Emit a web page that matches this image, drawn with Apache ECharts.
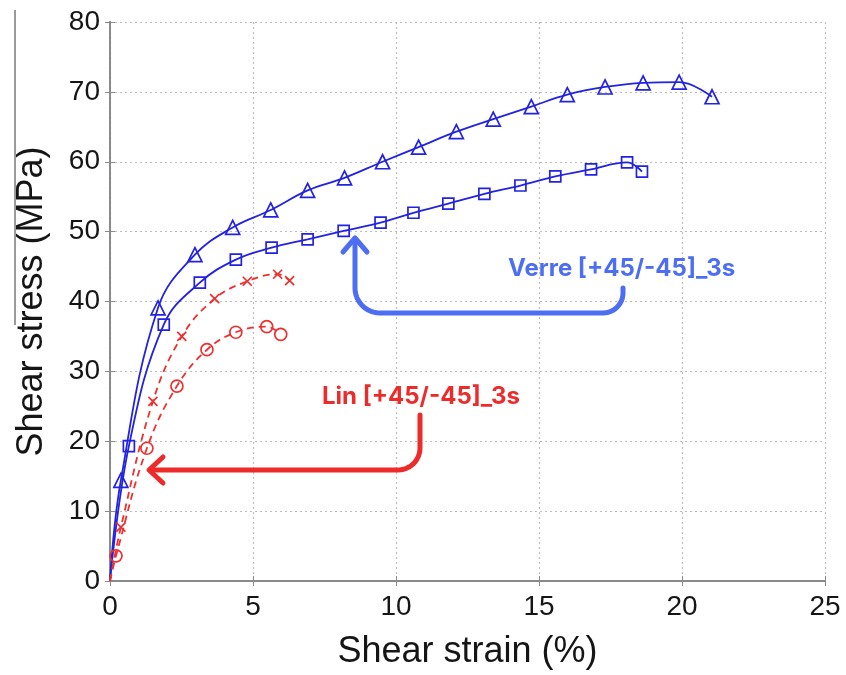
<!DOCTYPE html>
<html>
<head>
<meta charset="utf-8">
<script src="https://cdn.jsdelivr.net/npm/echarts@6/dist/echarts.min.js"></script>
<style>
  html, body { margin: 0; padding: 0; background: #fff; }
  #chart { width: 846px; height: 675px; }
</style>
</head>
<body>
<div id="chart"></div>
<script>
// Verre [+45/-45]_3s, upper curve (triangles)
const strainTri = [0, 0.38, 1.68, 2.97, 4.29, 5.62, 6.91, 8.2, 9.53, 10.79, 12.11, 13.4, 14.73, 15.99, 17.31, 18.64, 19.9, 21.05];
const stressTri = [0, 14.4, 39.1, 46.7, 50.6, 53.1, 55.9, 57.7, 60.0, 62.1, 64.3, 66.1, 67.9, 69.6, 70.7, 71.3, 71.4, 69.3];
// Verre, lower curve (squares)
const strainSq = [0, 0.66, 1.88, 3.14, 4.4, 5.65, 6.91, 8.17, 9.46, 10.61, 11.83, 13.09, 14.35, 15.57, 16.82, 18.08, 18.6];
const stressSq = [0, 19.3, 36.7, 42.7, 46.0, 47.7, 48.9, 50.1, 51.3, 52.7, 54.0, 55.4, 56.6, 57.9, 58.9, 59.9, 58.6];
// Lin [+45/-45]_3s, upper curve (crosses)
const strainX = [0, 0.38, 1.5, 2.51, 3.66, 4.8, 5.86, 6.28];
const stressX = [0, 7.7, 25.7, 35.0, 40.4, 42.9, 43.9, 43.0];
// Lin, lower curve (circles)
const strainO = [0, 0.21, 1.29, 2.34, 3.39, 4.4, 5.48, 5.97];
const stressO = [0, 3.6, 19.0, 27.9, 33.1, 35.6, 36.4, 35.3];

const xTicks = [0, 5, 10, 15, 20, 25];
const yTicks = [0, 10, 20, 30, 40, 50, 60, 70, 80];

const blue = "#2222e2";
const red = "#ee3030";
const noteBlue = "#4d6ef2";
const noteRed = "#ee2b2b";

const toPairs = (xs, ys) => xs.map((x, i) => (i === 0 ? { value: [x, ys[i]], symbol: "none" } : [x, ys[i]]));

const makeSeries = (xs, ys, color, symbol, size, dashed) => ({
    type: "line",
    data: toPairs(xs, ys),
    smooth: 0.4,
    symbol: symbol,
    symbolSize: size,
    showAllSymbol: true,
    lineStyle: { color: color, width: 1.8, type: dashed ? [7, 5] : "solid" },
    itemStyle: { color: "rgba(0,0,0,0)", borderColor: color, borderWidth: 1.7 },
    emphasis: { disabled: true },
    z: 3
});

// rounded elbow helper for the annotation arrows
const arcPts = (cx, cy, r, a0, a1) => {
    const pts = [];
    for (let i = 0; i <= 12; i++) {
        const a = (a0 + (a1 - a0) * i / 12) * Math.PI / 180;
        pts.push([cx + r * Math.cos(a), cy + r * Math.sin(a)]);
    }
    return pts;
};

const verrePath = [[623, 288], ...arcPts(603, 293, 20, 0, 90), ...arcPts(380, 288, 25, 90, 180), [355, 240]];
const linPath = [[420, 415], ...arcPts(398, 448, 22, 0, 90), [151, 470]];

const chart = echarts.init(document.getElementById("chart"));

const fontFam = "Liberation Sans, Arial, sans-serif";
const axisFont = { fontFamily: fontFam, fontSize: 28, color: "#151515" };
const frame = { show: true, lineStyle: { color: "#8a8a8a", width: 2 } };
const ticks = { show: true, inside: true, length: 5, lineStyle: { color: "#8a8a8a" } };
const grid = { show: true, lineStyle: { color: "#bdbdbd", type: [2, 3], width: 1.2 } };

chart.setOption({
    backgroundColor: "#fff",
    animation: false,
    grid: { left: 110, top: 22, right: 21, bottom: 93 },
    xAxis: [
        {
            type: "value", min: 0, max: 25, interval: 5,
            name: "Shear strain (%)", nameLocation: "middle", nameGap: 53,
            nameTextStyle: { fontFamily: fontFam, fontSize: 36, color: "#151515" },
            axisLine: frame, axisTick: ticks,
            axisLabel: { ...axisFont, margin: 12, formatter: v => (xTicks.includes(v) ? String(v) : "") },
            splitLine: grid
        },
        {
            type: "value", min: 0, max: 25, interval: 5, position: "top",
            axisLine: frame, axisTick: ticks,
            axisLabel: { show: false }, splitLine: { show: false }
        }
    ],
    yAxis: [
        {
            type: "value", min: 0, max: 80, interval: 10,
            name: "Shear stress (MPa)", nameLocation: "middle", nameGap: 60,
            nameTextStyle: { fontFamily: fontFam, fontSize: 36, color: "#151515" },
            axisLine: frame, axisTick: ticks,
            axisLabel: { ...axisFont, margin: 10, formatter: v => (yTicks.includes(v) ? String(v) : "") },
            splitLine: grid
        },
        {
            type: "value", min: 0, max: 80, interval: 10, position: "right",
            axisLine: frame, axisTick: ticks,
            axisLabel: { show: false }, splitLine: { show: false }
        }
    ],
    series: [
        makeSeries(strainTri, stressTri, blue, "triangle", 14, false),
        makeSeries(strainSq, stressSq, blue, "rect", 11, false),
        makeSeries(strainX, stressX, red, "path://M0,0L10,10M10,0L0,10", 9, true),
        makeSeries(strainO, stressO, red, "circle", 12, true)
    ],
    graphic: [
        // stray grey rule at the far left of the original figure
        { type: "line", shape: { x1: 15, y1: 10, x2: 15, y2: 325 }, style: { stroke: "#9a9a9a", lineWidth: 2 }, z: 1 },
        { type: "polyline", shape: { points: verrePath }, style: { stroke: noteBlue, lineWidth: 5, fill: null, lineCap: "round", lineJoin: "round" }, z: 10 },
        { type: "polyline", shape: { points: [[343, 252], [355, 238], [367, 252]] }, style: { stroke: noteBlue, lineWidth: 5, fill: null, lineCap: "round", lineJoin: "round" }, z: 10 },
        { type: "text", left: 508, top: 257, style: { text: "Verre [+45/-45]_3s", fill: noteBlue, font: "bold 24px Inter, 'Noto Sans', sans-serif" }, z: 10 },
        { type: "polyline", shape: { points: linPath }, style: { stroke: noteRed, lineWidth: 5, fill: null, lineCap: "round", lineJoin: "round" }, z: 10 },
        { type: "polyline", shape: { points: [[163, 457], [149, 470], [163, 483]] }, style: { stroke: noteRed, lineWidth: 5, fill: null, lineCap: "round", lineJoin: "round" }, z: 10 },
        { type: "text", left: 322, top: 385, style: { text: "Lin [+45/-45]_3s", fill: noteRed, font: "bold 24px Inter, 'Noto Sans', sans-serif" }, z: 10 }
    ]
});
</script>
</body>
</html>
